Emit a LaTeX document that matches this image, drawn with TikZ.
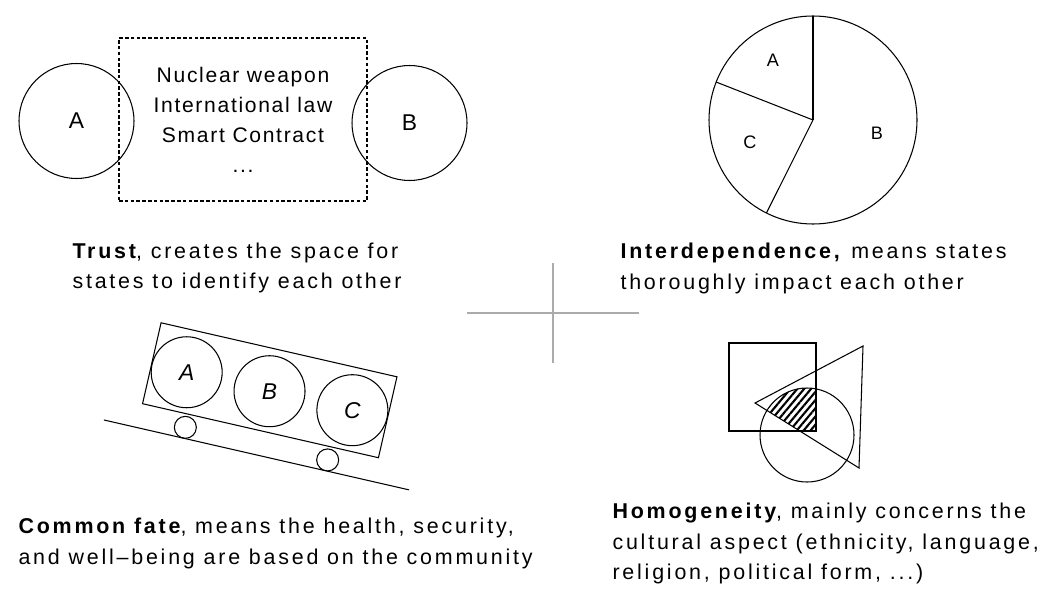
\documentclass[tikz,border=0pt]{standalone}
\usepackage{fontspec}
\setmainfont{Liberation Sans}[LetterSpace=13]
\usetikzlibrary{patterns.meta}
\begin{document}
\begin{tikzpicture}[x=0.02cm, y=-0.02cm, line width=0.6pt,
    txt/.style={font=\fontsize{12.2}{17.3}\selectfont, align=left, anchor=west, inner sep=0pt},
    state/.style={circle, draw, inner sep=0pt, font=\fontsize{13}{15}\selectfont},
    slice/.style={font=\fontsize{10.3}{12}\selectfont}]
    \useasboundingbox (0,0) rectangle (1060,601);

    % 信任：A、B 与中间的虚线框
    \node[draw, dashed, dash pattern=on 2pt off 1.3pt, minimum width=4.96cm, minimum height=3.26cm,
        align=center, font=\fontsize{12}{17.1}\selectfont\addfontfeatures{LetterSpace=8}] (tools) at (243,119.5)
        {Nuclear weapon\\International law\\Smart Contract\\...};
    \node[state, minimum size=2.3cm] (sa) at (76.5,121) {A};
    \node[state, minimum size=2.3cm] (sb) at (409.5,123) {B};
    \node[txt] (trust) at (72,268) {\textbf{Trust}, creates the space for\\states to identify each other};

    % 相互依存：饼图
    \coordinate (o) at (813,120);
    \draw (o) circle (104);
    \draw (o) -- ++(-90:104);
    \draw (o) -- ++(-158.6:104);
    \draw (o) -- ++(116.6:104);
    \node[slice] (pa) at (773,60) {A};
    \node[slice] (pc) at (750,142) {C};
    \node[slice] (pb) at (877,133) {B};
    \node[txt] (inter) at (620,268.5) {\textbf{Interdependence,} means states\\thoroughly impact each other};

    % 中间的十字
    \draw[black!33, line width=1.6pt] (553,263) -- (553,363);
    \draw[black!33, line width=1.6pt] (467,313) -- (639,313);

    % 命运共同体：斜坡上的小车
    \begin{scope}[shift={(269.75,390.25)}, rotate=-12.9]
        \draw (-121,-41.5) rectangle (121,41.5);
        \node[state, minimum size=1.42cm, font=\fontsize{13}{15}\selectfont\itshape] (ca) at (-85,1) {A};
        \node[state, minimum size=1.42cm, font=\fontsize{13}{15}\selectfont\itshape] (cb) at (0,1) {B};
        \node[state, minimum size=1.42cm, font=\fontsize{13}{15}\selectfont\itshape] (cc) at (85,1) {C};
        \node[circle, draw, minimum size=0.44cm] (w1) at (-74,55) {};
        \node[circle, draw, minimum size=0.44cm] (w2) at (72,55) {};
        \draw (-155,66) -- (158,66);
    \end{scope}
    \node[txt] (fate) at (18,543.5) {\textbf{Common fate}, means the health, security,\\and well–being are based on the community};

    % 同质性：方形、三角形与圆
    \begin{scope}
        \clip (729,343) rectangle (816,431);
        \clip (807,435) circle (47);
        \fill[pattern={Lines[angle=50, distance=3pt, line width=1.2pt]}]
            (755,403) -- (863,346) -- (859,468) -- cycle;
    \end{scope}
    \draw (729,343) rectangle (816,431);
    \draw (755,403) -- (863,346) -- (859,468) -- cycle;
    \draw (807,435) circle (47);
    \node[txt] (homo) at (612,543.5) {\textbf{Homogeneity}, mainly concerns the\\cultural aspect (ethnicity, language,\\religion, political form, ...)};

\end{tikzpicture}
\end{document}
